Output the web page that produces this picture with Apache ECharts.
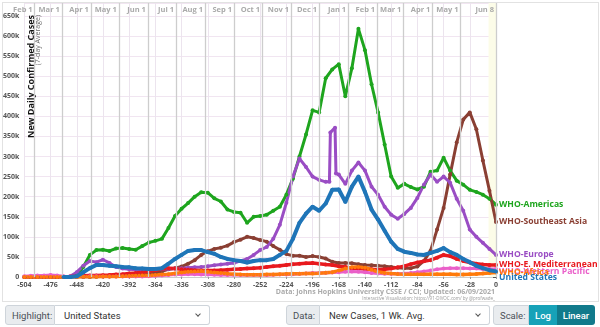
<!DOCTYPE html>
<html><head><meta charset="utf-8">
<script src="https://cdn.jsdelivr.net/npm/echarts@6/dist/echarts.min.js"></script>
<style>
html,body{margin:0;padding:0;background:#fff;width:600px;height:327px;overflow:hidden;font-family:Roboto,"Liberation Sans",sans-serif;}
#chart{position:absolute;left:0;top:0;width:600px;height:302px;}
.frame{position:absolute;left:2px;top:2px;width:595px;height:298px;border:1px solid #e2e2e2;pointer-events:none;}
.ctl{position:absolute;top:305px;height:20px;display:flex;font-size:9.5px;color:#495057;}
.lab{background:#e9ecef;border:1px solid #ced4da;border-radius:3px 0 0 3px;display:flex;align-items:center;padding:0 6px;box-sizing:border-box;height:20px;}
.sel{background:#fff;border:1px solid #ced4da;border-left:none;border-radius:0 3px 3px 0;display:flex;align-items:center;padding:0 9px;box-sizing:border-box;height:20px;position:relative;color:#333;}
.chev{position:absolute;right:9px;top:6px;width:3px;height:3px;border-right:1px solid #555;border-bottom:1px solid #555;transform:rotate(45deg);}
.btn{display:flex;align-items:center;justify-content:center;height:20px;color:#fff;box-sizing:border-box;font-weight:500;}
</style></head>
<body>
<div id="chart"></div>
<div class="frame"></div>
<div class="ctl" style="left:5px;"><div class="lab" style="width:50px;">Highlight:</div><div class="sel" style="width:155px;">United States<span class="chev"></span></div></div>
<div class="ctl" style="left:286px;"><div class="lab" style="width:34px;">Data:</div><div class="sel" style="width:170px;">New Cases, 1 Wk. Avg.<span class="chev"></span></div></div>
<div class="ctl" style="left:493px;"><div class="lab" style="width:36px;">Scale:</div><div class="btn" style="width:28px;background:#17a2b8;">Log</div><div class="btn" style="width:38px;background:#117a8b;border-radius:0 3px 3px 0;">Linear</div></div>
<script>
// days relative to 06/08/2021
const days = [-504,-497,-490,-483,-476,-469,-462,-455,-448,-441,-434,-427,-420,-413,-406,-399,-392,-385,-378,-371,-364,-357,-350,-343,-336,-329,-322,-315,-308,-301,-294,-287,-280,-273,-266,-259,-252,-245,-238,-231,-224,-217,-210,-203,-196,-189,-182,-175,-168,-161,-154,-147,-140,-133,-126,-119,-112,-105,-98,-91,-84,-77,-70,-63,-56,-49,-42,-35,-28,-21,-14,-7,0];
// values in thousands of new daily cases (7-day avg)
const americas = [0,0,0,0,0,0,0.1,0.5,3,25,55,67,68,65,71,72,70,68,77,86,90,95,122,152,170,184,200,211,210,196,188,168,162,160,135,150,152,155,165,175,205,245,300,355,415,410,495,517,530,450,520,618,565,480,410,330,250,222,232,224,218,225,262,265,297,265,240,230,217,212,205,195,180];
const seAsia = [0,0,0,0,0,0,0,0,0.1,0.2,0.3,0.5,1,1.5,2,3,4,5,6,8,10,14,19,22,26,33,42,55,64,70,73,78,87,93,100,97,92,88,77,68,57,53,53,50,52,50,46,38,35,35,34,32,30,29,28,27,25,23,22,22,26,40,65,118,172,255,335,392,410,368,290,215,137];
const europe = [0,0,0,0,0,0,0.5,2,12,28,40,37,43,35,25,21,19,18,17,17,18,19,20,21,22,23,24,25,27,29,31,33,35,40,45,55,67,75,95,130,185,250,295,274,250,242,237,366,255,232,265,285,265,225,205,175,155,145,157,172,197,230,255,237,250,235,195,165,118,100,85,70,55];
const europeSpikeDays = [-178,-177,-172,-171];
const europeSpikeVals = [237,360,372,258];
const eMed = [0,0,0,0,0,0,0.5,1,2,3,3.5,4,4.5,5,6,7,9,10,12,14,17,20,22,21,19,18,17,16,16,16,17,18,19,20,21,22,23,25,27,28,30,32,33,34,35,33,31,30,27,25,22,21,20,19,18,19,21,24,27,32,36,39,42,48,55,52,45,40,36,33,31,30,30];
const wPacific = [2,3,3.5,4,5,4,2,1.5,1,1.5,2,2,1.5,1,1,1,1,1,1.5,2,3,4,5,6,6.5,7,7,6.5,6,5.5,5,5,5,5,5,5,5,5,5.5,6,6.5,7,8,9,10,10,10.5,11,12,13,14,13,12,10,9,8,8,8,9,10,12,14,16,19,21,22,22,22,21,21,20,20,20];
const africa = [0,0,0,0,0,0,0,0,0.3,0.5,0.5,0.7,1,1.2,1.5,2,2.5,3,3.5,4,5,6,7,9,11,13,14,15,13,11,10,8,7,6,5.5,5.5,5.5,6,6.5,7,7.5,8,8,8.5,9,9.5,10.5,12,16,21,24,25,23,18,13,10,8.5,7.5,7,7,7,7,7,7,7,7,6.5,6.5,7,7.5,8.5,10,11];
const usa = [null,null,null,null,null,null,0,0,2,12,22,30,30,28,27,25,24,22,21,20,20,22,33,45,55,65,67,67,62,58,50,45,42,40,36,40,42,42,45,55,65,95,135,158,175,165,183,217,218,187,225,250,212,168,143,115,88,70,63,60,56,55,60,65,72,62,55,45,37,28,22,17,14];
const monthDays = [-493,-464,-433,-403,-372,-342,-311,-280,-250,-219,-189,-158,-127,-99,-68,-38,0];
const monthLabels = ['Feb 1','Mar 1','Apr 1','May 1','Jun 1','Jul 1','Aug 1','Sep 1','Oct 1','Nov 1','Dec 1','Jan 1','Feb 1','Mar 1','Apr 1','May 1','Jun 8'];

const FONT = '"Open Sans","Noto Sans",sans-serif';
const MONTH_LABEL_LEVEL = 665; // vertical level (k) of the month captions inside the top strip
function pairs(vals){ return days.map((d,i)=>[d, vals[i]]).filter(p=>p[1]!==null); }
function mk(name, data, color, dy, width, z){
  return {
    name, type:'line', data, z, xAxisIndex:0, yAxisIndex:0,
    symbol:'circle', symbolSize:4, showSymbol:true, showAllSymbol:true,
    lineStyle:{width, color}, itemStyle:{color},
    emphasis:{disabled:true},
    endLabel:{show:true, formatter:name, color, fontSize:8.6, fontWeight:'bold', fontFamily:FONT, distance:3, offset:[0,dy]}
  };
}
const europeData = pairs(europe).filter(p=>p[0]!==-175)
  .concat(europeSpikeDays.map((d,i)=>[d, europeSpikeVals[i]]))
  .sort((a,b)=>a[0]-b[0]);

const chart = echarts.init(document.getElementById('chart'), null, {renderer:'canvas'});
chart.setOption({
  animation:false,
  grid:{left:24, right:104, top:3, bottom:25},
  xAxis:{
    type:'value', min:-504, max:0, interval:28, position:'bottom',
    axisLine:{show:true, lineStyle:{color:'#cccccc'}},
    axisTick:{show:true, length:2, lineStyle:{color:'#999'}},
    axisLabel:{fontSize:7, fontWeight:'bold', color:'#555', margin:4, fontFamily:FONT},
    splitLine:{show:true, lineStyle:{color:'#ece4ee', width:1}}
  },
  yAxis:{
    type:'value', min:0, max:682.4, interval:50,
    axisLine:{show:true, lineStyle:{color:'#b5b5b5', width:1.5}},
    axisTick:{show:true, length:3, lineStyle:{color:'#555'}},
    axisLabel:{fontSize:7, fontWeight:'bold', color:'#555', margin:5, fontFamily:FONT, showMaxLabel:false,
      formatter:v=> v>650 ? '' : (v===0?'0':v+'k')},
    splitLine:{show:true, lineStyle:{color:'#f1e5f1', width:1}}
  },
  series:[
    {type:'line', data:[], z:1, silent:true,
     markArea:{silent:true, itemStyle:{color:'#fcfce8'}, data:[[{xAxis:-8},{xAxis:0}]]},
     markLine:{silent:true, symbol:['none','none'], label:{show:false},
       lineStyle:{color:'#cdcdcd', width:1.3, type:'solid'},
       data:monthDays.map(d=>({xAxis:d}))}},
    mk('WHO-Americas', pairs(americas), '#1ea51e', 0, 3, 3),
    mk('WHO-Southeast Asia', pairs(seAsia), '#8a3f33', 0, 3, 3),
    mk('WHO-Europe', europeData, '#9a4dc4', 0, 3, 3),
    mk('WHO-E. Mediterranean', pairs(eMed), '#e8191e', 0, 3.5, 3),
    mk('WHO-Western Pacific', pairs(wPacific), '#ea5fc9', 3, 3, 3),
    mk('WHO-Africa', pairs(africa), '#ff7a0a', 0, 3.5, 3),
    mk('United States', pairs(usa), '#1f75b8', 6.5, 4, 5)
  ]
});

// month captions placed through the chart's own scales
const monthTexts = monthDays.map((d,i)=>{
  const p = chart.convertToPixel({xAxisIndex:0, yAxisIndex:0}, [d, MONTH_LABEL_LEVEL]);
  return {type:'text', x:p[0]-2, y:p[1], z:100, zlevel:1, silent:true,
    style:{text:monthLabels[i], align:'right', verticalAlign:'middle', fill:'#aaaaaa', fontSize:7.5, fontWeight:'bold', fontFamily:FONT}};
});
chart.setOption({
  graphic: monthTexts.concat([
    {type:'text', x:31, y:15, rotation:Math.PI/2, z:2, silent:true,
     style:{text:'New Daily Confirmed Cases', align:'right', verticalAlign:'middle', fontSize:9, fontWeight:'bold', fill:'#111', fontFamily:FONT}},
    {type:'text', x:38, y:15, rotation:Math.PI/2, z:2, silent:true,
     style:{text:'(7-day Average)', align:'right', verticalAlign:'middle', fontSize:7, fill:'#666', fontFamily:FONT}},
    {type:'text', x:495, y:292, z:2, silent:true,
     style:{text:'Data: Johns Hopkins University CSSE / CCI; Updated: 06/09/2021', align:'right', verticalAlign:'middle', fontSize:7, fontWeight:'bold', fill:'#aaaaaa', fontFamily:FONT}},
    {type:'text', x:495, y:298.5, z:2, silent:true,
     style:{text:'Interactive Visualization: https://91-DIVOC.com/ by @profwade_', align:'right', verticalAlign:'middle', fontSize:4.5, fill:'#999', fontFamily:FONT}}
  ])
});
</script>
</body></html>
